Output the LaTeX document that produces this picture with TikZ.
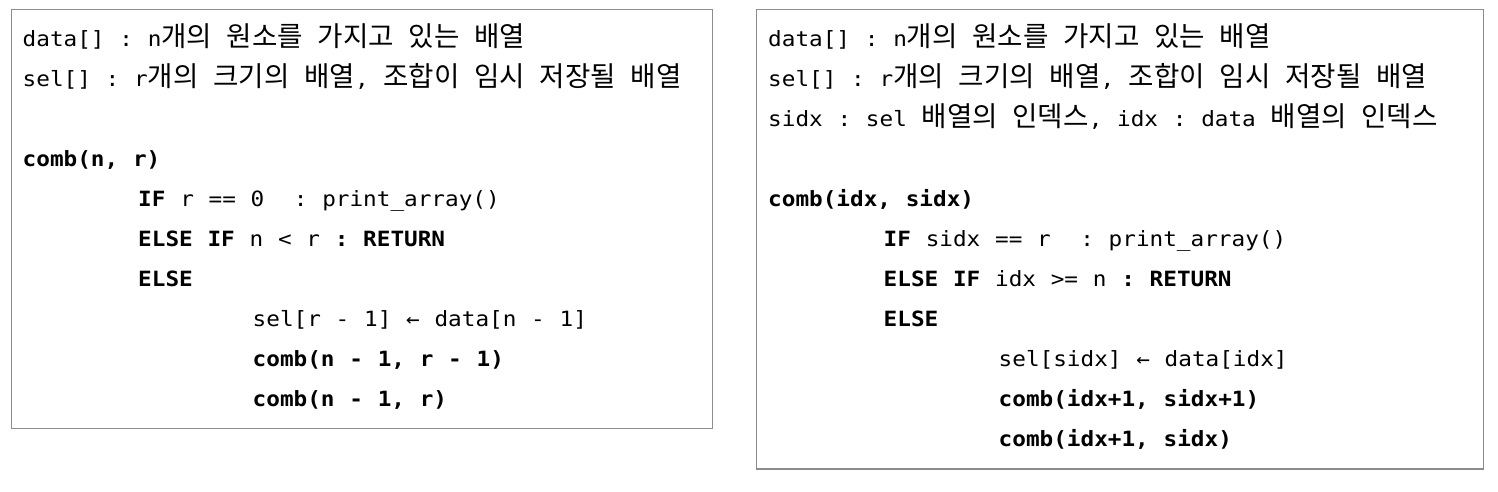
\documentclass[tikz,border=0pt]{standalone}
\usepackage{fontspec}
\setmonofont[FakeStretch=1.08,WordSpace=1.08]{DejaVu Sans Mono}
\newfontfamily\kofont{Noto Sans CJK KR}
\newcommand{\ko}[1]{{\kofont\fontsize{27.6}{40}\selectfont #1}}
\usepackage{tikz}
\usetikzlibrary{positioning}
\definecolor{boxgray}{HTML}{8C8C8C}

\begin{document}
\begin{tikzpicture}[x=1pt,y=-1pt,
    codeline/.style={anchor=base west,inner sep=0pt,font=\ttfamily\fontsize{21}{40}\selectfont},
    codebox/.style={draw=boxgray,line width=1.3pt}]
    \useasboundingbox (0,0) rectangle (1498,491);
    % left box: comb(n, r)
    \draw[codebox] (11.5,9.5) rectangle (712.7,428.7);
    \node[codeline] (ldata) at (22.5,46.5) {data[] : n\ko{개의} \ko{원소를} \ko{가지고} \ko{있는} \ko{배열}};
    \node[codeline] (lsel) at (22.5,86.5) {sel[] : r\ko{개의} \ko{크기의} \ko{배열}, \ko{조합이} \ko{임시} \ko{저장될} \ko{배열}};
    \node[codeline] (lcomb) at (22.5,166.5) {\textbf{comb(n, r)}};
    \node[codeline] (lif) at (138,206.5) {\textbf{IF} r == 0~~: print\_array()};
    \node[codeline] (lelif) at (138,246.5) {\textbf{ELSE IF} n < r \textbf{: RETURN}};
    \node[codeline] (lelse) at (138,286.5) {\textbf{ELSE}};
    \node[codeline] (lset) at (252.5,326.5) {sel[r - 1] ← data[n - 1]};
    \node[codeline] (lcallA) at (252.5,366.5) {\textbf{comb(n - 1, r - 1)}};
    \node[codeline] (lcallB) at (252.5,406.5) {\textbf{comb(n - 1, r)}};
    % right box: comb(idx, sidx)
    \draw[codebox] (756.7,9.5) rectangle (1483.7,469);
    \node[codeline] (rdata) at (768,46.5) {data[] : n\ko{개의} \ko{원소를} \ko{가지고} \ko{있는} \ko{배열}};
    \node[codeline] (rsel) at (768,86.5) {sel[] : r\ko{개의} \ko{크기의} \ko{배열}, \ko{조합이} \ko{임시} \ko{저장될} \ko{배열}};
    \node[codeline] (ridx) at (768,126.5) {sidx : sel \ko{배열의} \ko{인덱스}, idx : data \ko{배열의} \ko{인덱스}};
    \node[codeline] (rcomb) at (768,206.5) {\textbf{comb(idx, sidx)}};
    \node[codeline] (rif) at (883.5,246.5) {\textbf{IF} sidx == r~~: print\_array()};
    \node[codeline] (relif) at (883.5,286.5) {\textbf{ELSE IF} idx >= n \textbf{: RETURN}};
    \node[codeline] (relse) at (883.5,326.5) {\textbf{ELSE}};
    \node[codeline] (rset) at (998.5,366.5) {sel[sidx] ← data[idx]};
    \node[codeline] (rcallA) at (998.5,406.5) {\textbf{comb(idx+1, sidx+1)}};
    \node[codeline] (rcallB) at (998.5,446.5) {\textbf{comb(idx+1, sidx)}};
\end{tikzpicture}
\end{document}
